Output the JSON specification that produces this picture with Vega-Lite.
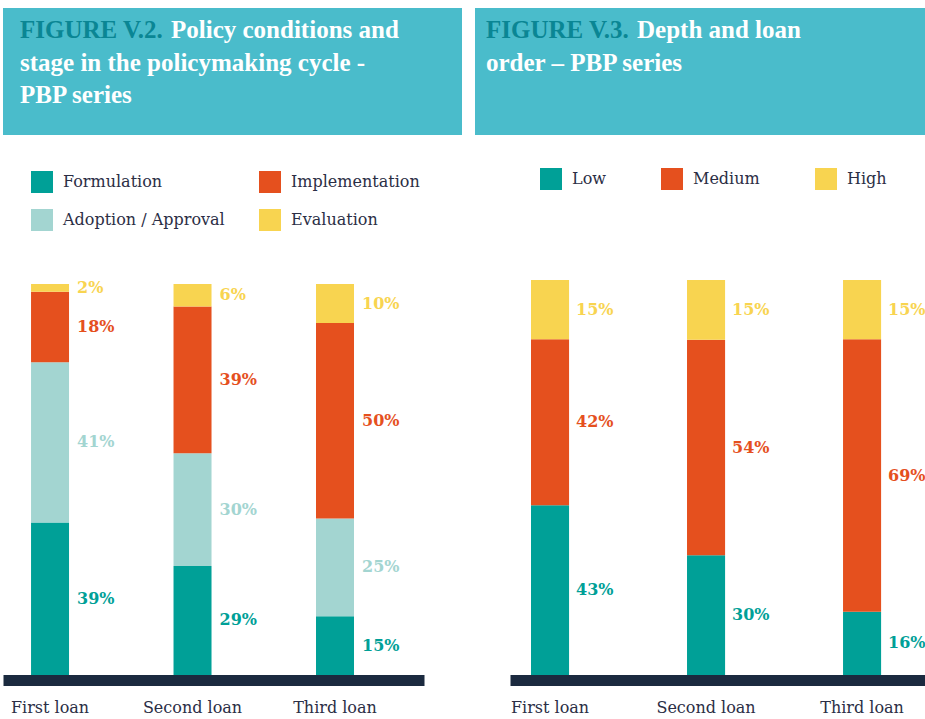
{
  "$schema": "https://vega.github.io/schema/vega-lite/v6.json",
  "padding": {"left": 3, "top": 8, "right": 0, "bottom": 0},
  "background": "white",
  "config": {"view": {"stroke": null}, "font": "DejaVu Serif"},
  "bounds": "flush",
  "spacing": 272,
  "resolve": {"scale": {"color": "independent"}, "legend": {"color": "independent"}},
  "vconcat": [
    {
      "bounds": "flush",
      "spacing": 13,
      "hconcat": [
        {
          "width": 459,
          "height": 127,
          "view": {"fill": "#4ABCCB", "stroke": null},
          "data": {"values": [
            {"line": 1, "text": "FIGURE V.2.", "part": "fig"},
            {"line": 1, "text": "Policy conditions and", "part": "head"},
            {"line": 2, "text": "stage in the policymaking cycle -", "part": "rest"},
            {"line": 3, "text": "PBP series", "part": "rest"}
          ]},
          "encoding": {
            "y": {"field": "line", "type": "ordinal", "scale": {"type": "point", "domain": [1, 2, 3], "padding": 0.95, "align": 0.355}, "axis": null},
            "x": {"value": 17},
            "text": {"field": "text"}
          },
          "layer": [
            {"transform": [{"filter": "datum.part == 'fig'"}], "mark": {"type": "text", "align": "left", "baseline": "middle", "font": "Liberation Serif", "fontWeight": "bold", "fontSize": 25, "color": "#0A8694"}},
            {"transform": [{"filter": "datum.part == 'head'"}], "mark": {"type": "text", "align": "left", "baseline": "middle", "font": "Liberation Serif", "fontWeight": "bold", "fontSize": 25, "color": "#FFFFFF", "dx": 151}},
            {"transform": [{"filter": "datum.part == 'rest'"}], "mark": {"type": "text", "align": "left", "baseline": "middle", "font": "Liberation Serif", "fontWeight": "bold", "fontSize": 25, "color": "#FFFFFF"}}
          ]
        },
        {
          "width": 450,
          "height": 127,
          "view": {"fill": "#4ABCCB", "stroke": null},
          "data": {"values": [
            {"line": 1, "text": "FIGURE V.3.", "part": "fig"},
            {"line": 1, "text": "Depth and loan", "part": "head"},
            {"line": 2, "text": "order – PBP series", "part": "rest"}
          ]},
          "encoding": {
            "y": {"field": "line", "type": "ordinal", "scale": {"type": "point", "domain": [1, 2, 3], "padding": 0.95, "align": 0.355}, "axis": null},
            "x": {"value": 11},
            "text": {"field": "text"}
          },
          "layer": [
            {"transform": [{"filter": "datum.part == 'fig'"}], "mark": {"type": "text", "align": "left", "baseline": "middle", "font": "Liberation Serif", "fontWeight": "bold", "fontSize": 25, "color": "#0A8694"}},
            {"transform": [{"filter": "datum.part == 'head'"}], "mark": {"type": "text", "align": "left", "baseline": "middle", "font": "Liberation Serif", "fontWeight": "bold", "fontSize": 25, "color": "#FFFFFF", "dx": 151}},
            {"transform": [{"filter": "datum.part == 'rest'"}], "mark": {"type": "text", "align": "left", "baseline": "middle", "font": "Liberation Serif", "fontWeight": "bold", "fontSize": 25, "color": "#FFFFFF"}}
          ]
        }
      ]
    },
    {
      "bounds": "flush",
      "spacing": 86,
      "resolve": {"scale": {"color": "independent"}, "legend": {"color": "independent"}},
      "hconcat": [
        {
          "width": 421,
          "height": 395,
          "data": {"values": [
            {"loan": "First loan", "stage": "Formulation", "rank": 1, "value": 39, "label": "39%"},
            {"loan": "First loan", "stage": "Adoption / Approval", "rank": 2, "value": 41, "label": "41%"},
            {"loan": "First loan", "stage": "Implementation", "rank": 3, "value": 18, "label": "18%"},
            {"loan": "First loan", "stage": "Evaluation", "rank": 4, "value": 2, "label": "2%"},
            {"loan": "Second loan", "stage": "Formulation", "rank": 1, "value": 29, "label": "29%"},
            {"loan": "Second loan", "stage": "Adoption / Approval", "rank": 2, "value": 30, "label": "30%"},
            {"loan": "Second loan", "stage": "Implementation", "rank": 3, "value": 39, "label": "39%"},
            {"loan": "Second loan", "stage": "Evaluation", "rank": 4, "value": 6, "label": "6%"},
            {"loan": "Third loan", "stage": "Formulation", "rank": 1, "value": 15, "label": "15%"},
            {"loan": "Third loan", "stage": "Adoption / Approval", "rank": 2, "value": 25, "label": "25%"},
            {"loan": "Third loan", "stage": "Implementation", "rank": 3, "value": 50, "label": "50%"},
            {"loan": "Third loan", "stage": "Evaluation", "rank": 4, "value": 10, "label": "10%"}
          ]},
          "transform": [
            {"stack": "value", "groupby": ["loan"], "sort": [{"field": "rank", "order": "ascending"}], "offset": "normalize", "as": ["v0", "v1"]},
            {"calculate": "(datum.v0 + datum.v1) / 2", "as": "mid"}
          ],
          "encoding": {
            "x": {"field": "loan", "type": "nominal", "sort": ["First loan", "Second loan", "Third loan"],
              "scale": {"type": "band", "paddingInner": 0.7333, "paddingOuter": 0.344, "align": 0.286},
              "axis": {"title": null, "domainColor": "#1B2A3F", "domainWidth": 11, "domainCap": "butt", "ticks": false, "tickSize": 0, "offset": 5, "labelFont": "DejaVu Serif", "labelFontSize": 16, "labelColor": "#2B2E45", "labelPadding": 19, "labelAngle": 0, "grid": false}},
            "color": {"field": "stage", "type": "nominal",
              "scale": {"domain": ["Formulation", "Implementation", "Adoption / Approval", "Evaluation"], "range": ["#00A097", "#E5501E", "#A3D5D1", "#F8D450"]},
              "legend": {"orient": "none", "legendX": 28, "legendY": -109, "direction": "horizontal", "columns": 2, "title": null, "symbolType": "square", "symbolSize": 484, "symbolStrokeWidth": 0, "symbolOpacity": 1, "labelFont": "DejaVu Serif", "labelFontSize": 16, "labelColor": "#2B2E45", "labelOffset": 10, "rowPadding": 16, "columnPadding": 34, "padding": 0, "labelLimit": 300}}
          },
          "layer": [
            {"mark": {"type": "bar"}, "encoding": {"y": {"field": "v0", "type": "quantitative", "scale": {"domain": [0, 1.0102], "nice": false}, "axis": null}, "y2": {"field": "v1"}}},
            {"mark": {"type": "text", "align": "left", "baseline": "middle", "dx": 27, "font": "DejaVu Serif", "fontWeight": "bold", "fontSize": 16, "clip": true},
             "encoding": {"y": {"field": "mid", "type": "quantitative", "axis": null}, "text": {"field": "label"}}}
          ]
        },
        {
          "width": 415,
          "height": 395,
          "data": {"values": [
            {"loan": "First loan", "depth": "Low", "rank": 1, "value": 43, "label": "43%"},
            {"loan": "First loan", "depth": "Medium", "rank": 2, "value": 42, "label": "42%"},
            {"loan": "First loan", "depth": "High", "rank": 3, "value": 15, "label": "15%"},
            {"loan": "Second loan", "depth": "Low", "rank": 1, "value": 30, "label": "30%"},
            {"loan": "Second loan", "depth": "Medium", "rank": 2, "value": 54, "label": "54%"},
            {"loan": "Second loan", "depth": "High", "rank": 3, "value": 15, "label": "15%"},
            {"loan": "Third loan", "depth": "Low", "rank": 1, "value": 16, "label": "16%"},
            {"loan": "Third loan", "depth": "Medium", "rank": 2, "value": 69, "label": "69%"},
            {"loan": "Third loan", "depth": "High", "rank": 3, "value": 15, "label": "15%"}
          ]},
          "transform": [
            {"stack": "value", "groupby": ["loan"], "sort": [{"field": "rank", "order": "ascending"}], "offset": "normalize", "as": ["v0", "v1"]},
            {"calculate": "(datum.v0 + datum.v1) / 2", "as": "mid"}
          ],
          "encoding": {
            "x": {"field": "loan", "type": "nominal", "sort": ["First loan", "Second loan", "Third loan"],
              "scale": {"type": "band", "paddingInner": 0.756, "paddingOuter": 0.208, "align": 0.3236},
              "axis": {"title": null, "domainColor": "#1B2A3F", "domainWidth": 11, "domainCap": "butt", "ticks": false, "tickSize": 0, "offset": 5, "labelFont": "DejaVu Serif", "labelFontSize": 16, "labelColor": "#2B2E45", "labelPadding": 19, "labelAngle": 0, "grid": false}},
            "color": {"field": "depth", "type": "nominal",
              "scale": {"domain": ["Low", "Medium", "High"], "range": ["#00A097", "#E5501E", "#F8D450"]},
              "legend": {"orient": "none", "legendX": 30, "legendY": -112, "direction": "horizontal", "columns": 3, "title": null, "symbolType": "square", "symbolSize": 484, "symbolStrokeWidth": 0, "symbolOpacity": 1, "labelFont": "DejaVu Serif", "labelFontSize": 16, "labelColor": "#2B2E45", "labelOffset": 10, "rowPadding": 16, "columnPadding": 55, "padding": 0, "labelLimit": 300}}
          },
          "layer": [
            {"mark": {"type": "bar"}, "encoding": {"y": {"field": "v0", "type": "quantitative", "scale": {"domain": [0, 1], "nice": false}, "axis": null}, "y2": {"field": "v1"}}},
            {"mark": {"type": "text", "align": "left", "baseline": "middle", "dx": 26, "font": "DejaVu Serif", "fontWeight": "bold", "fontSize": 16, "clip": true},
             "encoding": {"y": {"field": "mid", "type": "quantitative", "axis": null}, "text": {"field": "label"}}}
          ]
        }
      ]
    }
  ]
}
